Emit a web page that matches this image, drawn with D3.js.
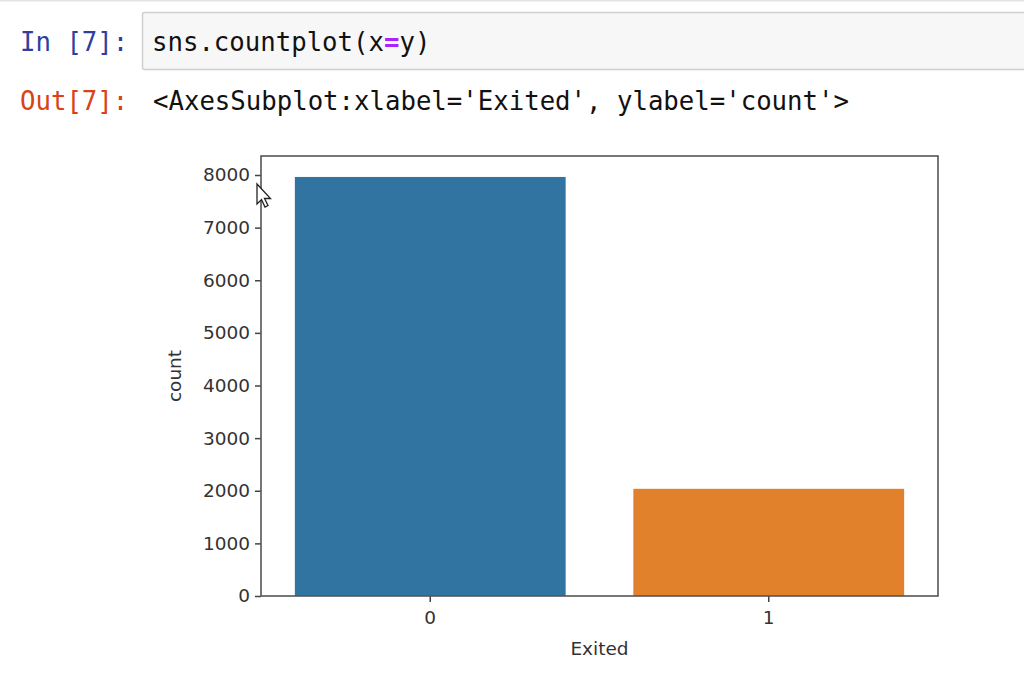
<!DOCTYPE html>
<html>
<head>
<meta charset="utf-8">
<script src="https://cdn.jsdelivr.net/npm/d3@7"></script>
<style>
  html, body { margin: 0; padding: 0; background: #ffffff; }
  svg { display: block; }
</style>
</head>
<body>
<svg id="chart" width="1024" height="677"></svg>
<script>
// ---- data ----
const categories = ["0", "1"];
const counts = [7963, 2037];
const barColors = ["#3274a1", "#e1812c"];
const yTicks = [0, 1000, 2000, 3000, 4000, 5000, 6000, 7000, 8000];
const xLabel = "Exited";
const yLabel = "count";
const inPrompt = "In [7]:";
const outPrompt = "Out[7]:";
const outText = "<AxesSubplot:xlabel='Exited', ylabel='count'>";

(function () {
const svg = d3.select("#chart");
const mono = "'DejaVu Sans Mono', monospace";
const fs = 25.7;

// top border line
svg.append("line").attr("x1", 0).attr("x2", 1024).attr("y1", 0.5).attr("y2", 0.5)
  .attr("stroke", "#e4e4e4").attr("stroke-width", 2);

// input cell
svg.append("rect").attr("x", 142.5).attr("y", 12.5).attr("width", 900).attr("height", 57)
  .attr("rx", 2).attr("fill", "#f7f7f8").attr("stroke", "#cfcfcf").attr("stroke-width", 1.5);

svg.append("text").attr("x", 20).attr("y", 51)
  .attr("font-family", mono).attr("font-size", fs).attr("fill", "#303f9f")
  .text(inPrompt);

const code = svg.append("text").attr("x", 152).attr("y", 51)
  .attr("font-family", mono).attr("font-size", fs).attr("fill", "#111");
code.append("tspan").text("sns.countplot(x");
code.append("tspan").attr("fill", "#aa22ff").attr("font-weight", "bold").text("=");
code.append("tspan").text("y)");

svg.append("text").attr("x", 20).attr("y", 110)
  .attr("font-family", mono).attr("font-size", fs).attr("fill", "#d84315")
  .text(outPrompt);
svg.append("text").attr("x", 153).attr("y", 110)
  .attr("font-family", mono).attr("font-size", fs).attr("fill", "#111")
  .text(outText);

// ---- chart ----
const pLeft = 261, pRight = 938, pTop = 156, pBottom = 596;
const x = d3.scaleBand().domain(categories).range([pLeft, pRight])
  .paddingInner(0.2).paddingOuter(0.1);
const y = d3.scaleLinear().domain([0, d3.max(counts) * 1.05]).range([pBottom, pTop]);

const g = svg.append("g");
g.selectAll("rect.bar").data(categories).join("rect")
  .attr("class", "bar")
  .attr("x", d => x(d))
  .attr("width", x.bandwidth())
  .attr("y", (d, i) => y(counts[i]))
  .attr("height", (d, i) => pBottom - y(counts[i]))
  .attr("fill", (d, i) => barColors[i]);

const font = "'DejaVu Sans', sans-serif";
const yAxis = d3.axisLeft(y).tickValues(yTicks).tickSize(6).tickPadding(5).tickFormat(d3.format("d"));
const ya = svg.append("g").attr("transform", `translate(${pLeft},0)`).call(yAxis);
ya.select(".domain").remove();
ya.selectAll("line").attr("stroke", "#444").attr("stroke-width", 1.5);
ya.selectAll("text").attr("font-family", font).attr("font-size", 18.5).attr("fill", "#333");

const xAxis = d3.axisBottom(x).tickSize(6).tickPadding(9);
const xa = svg.append("g").attr("transform", `translate(0,${pBottom})`).call(xAxis);
xa.select(".domain").remove();
xa.selectAll("line").attr("stroke", "#444").attr("stroke-width", 1.5);
xa.selectAll("text").attr("font-family", font).attr("font-size", 18.5).attr("fill", "#333");

// spines
svg.append("rect").attr("x", pLeft).attr("y", pTop).attr("width", pRight - pLeft).attr("height", pBottom - pTop)
  .attr("fill", "none").attr("stroke", "#555").attr("stroke-width", 1.6);

// axis labels
svg.append("text").attr("x", (pLeft + pRight) / 2).attr("y", 655)
  .attr("text-anchor", "middle").attr("font-family", font).attr("font-size", 18.5).attr("fill", "#333")
  .text(xLabel);
svg.append("text").attr("transform", `translate(181,${(pTop + pBottom) / 2}) rotate(-90)`)
  .attr("text-anchor", "middle").attr("font-family", font).attr("font-size", 18.5).attr("fill", "#333")
  .text(yLabel);

// mouse cursor
svg.append("path")
  .attr("d", "M0,0 L0,20 L4.5,15.5 L8,23 L11,21.5 L7.5,14.5 L13.5,14.5 Z")
  .attr("transform", "translate(257,184)")
  .attr("fill", "#fff").attr("stroke", "#222").attr("stroke-width", 1.3);
})();
</script>
</body>
</html>
